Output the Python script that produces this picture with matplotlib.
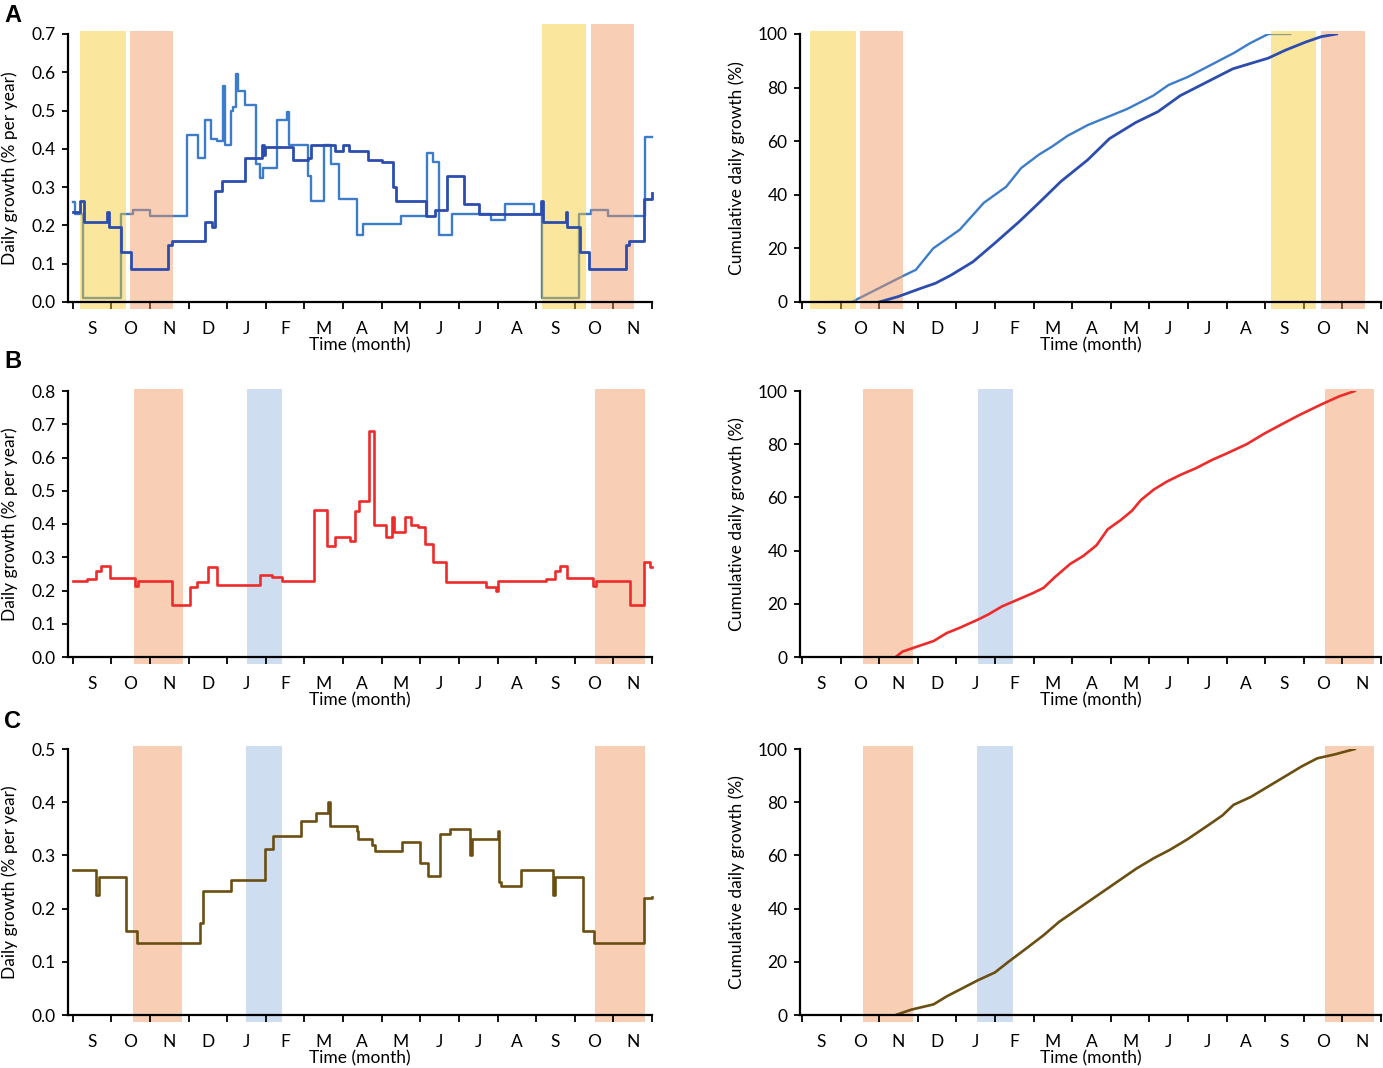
import numpy as np
import matplotlib
matplotlib.use("Agg")
import matplotlib.pyplot as plt

plt.rcParams['font.family'] = ['Lato', 'DejaVu Sans']

months = ["S", "O", "N", "D", "J", "F", "M", "A", "M", "J", "J", "A", "S", "O", "N"]

# ---- Panel A (daily growth, two series) ----
a_light_x = [0.00, 0.05, 0.27, 1.26, 1.57, 2.00, 2.97, 3.24, 3.43, 3.57, 3.73, 3.89, 3.94,
             4.09, 4.14, 4.23, 4.28, 4.45, 4.76, 4.86, 4.94, 5.28, 5.55, 5.60, 6.09, 6.18,
             6.51, 6.70, 6.90, 7.35, 7.51, 8.51, 9.17, 9.32, 9.49, 9.82, 10.83, 11.19,
             11.94, 12.16, 13.12, 13.41, 13.87, 14.82, 15.00]
a_light_y = [0.26, 0.23, 0.01, 0.23, 0.24, 0.225, 0.435, 0.375, 0.475, 0.425, 0.42, 0.565, 0.41,
             0.50, 0.51, 0.595, 0.55, 0.515, 0.36, 0.325, 0.35, 0.475, 0.495, 0.41, 0.33, 0.265,
             0.41, 0.36, 0.27, 0.175, 0.205, 0.225, 0.39, 0.365, 0.175, 0.23, 0.215, 0.255,
             0.23, 0.01, 0.23, 0.24, 0.225, 0.43, 0.43]

a_dark_x = [0.00, 0.20, 0.29, 0.90, 0.95, 1.26, 1.51, 2.48, 2.57, 3.42, 3.62, 3.68, 3.86,
            4.45, 4.90, 4.95, 4.99, 5.70, 6.10, 6.16, 6.78, 6.99, 7.16, 7.64, 8.02, 8.29,
            8.36, 9.16, 9.37, 9.70, 10.13, 10.51, 12.12, 12.18, 12.77, 12.81, 13.14, 13.38,
            14.33, 14.40, 14.80, 15.00]
a_dark_y = [0.235, 0.265, 0.21, 0.235, 0.195, 0.13, 0.085, 0.15, 0.16, 0.21, 0.195, 0.29, 0.315,
            0.375, 0.41, 0.385, 0.405, 0.37, 0.375, 0.41, 0.395, 0.41, 0.395, 0.37, 0.365, 0.30,
            0.265, 0.225, 0.24, 0.33, 0.255, 0.23, 0.265, 0.21, 0.235, 0.195, 0.13, 0.085,
            0.15, 0.16, 0.27, 0.285]

a_cum_light_x = [0.78, 1.29, 2.66, 2.95, 3.40, 4.09, 4.71, 5.29, 5.68, 6.14, 6.48, 6.88, 7.40,
                 7.91, 8.42, 9.10, 9.50, 10.00, 10.60, 11.20, 11.60, 12.08, 12.65]
a_cum_light_y = [0, 0, 10, 12, 20, 27, 37, 43, 50, 55, 58, 62, 66,
                 69, 72, 77, 81, 84, 88.5, 93, 96.5, 100, 100]

a_cum_dark_x = [2.00, 2.49, 3.06, 3.46, 3.86, 4.43, 5.00, 5.63, 6.14, 6.71, 7.40, 7.97, 8.65,
                9.22, 9.80, 10.48, 11.16, 12.08, 12.53, 13.05, 13.45, 13.85]
a_cum_dark_y = [0, 2, 5, 7, 10, 15, 22, 30, 37, 45, 53, 61, 67,
                71, 77, 82, 87, 91, 94, 97, 99, 100]

# ---- Panel B ----
b_x = [0.00, 0.36, 0.60, 0.74, 0.96, 1.61, 1.68, 2.56, 3.04, 3.22, 3.51, 3.74, 4.86, 5.17,
       5.43, 6.24, 6.58, 6.79, 7.19, 7.30, 7.42, 7.67, 7.81, 8.12, 8.26, 8.31, 8.60, 8.76,
       8.93, 9.12, 9.34, 9.66, 10.71, 10.96, 11.02, 12.26, 12.49, 12.62, 12.81, 13.47,
       13.55, 14.44, 14.79, 14.95, 15.00]
b_y = [0.228, 0.235, 0.258, 0.275, 0.237, 0.215, 0.228, 0.155, 0.21, 0.225, 0.27, 0.218, 0.248, 0.24,
       0.228, 0.443, 0.335, 0.362, 0.35, 0.44, 0.47, 0.68, 0.398, 0.36, 0.42, 0.375, 0.42, 0.397,
       0.39, 0.34, 0.285, 0.225, 0.21, 0.20, 0.228, 0.235, 0.258, 0.275, 0.237, 0.215,
       0.228, 0.155, 0.285, 0.27, 0.27]

b_cum_x = [2.43, 2.60, 3.00, 3.41, 3.75, 4.09, 4.55, 4.83, 5.18, 5.58, 5.98, 6.26, 6.55, 6.95,
           7.29, 7.63, 7.92, 8.26, 8.55, 8.78, 9.12, 9.46, 9.81, 10.21, 10.61, 11.00, 11.52,
           11.98, 12.43, 12.89, 13.46, 13.92, 14.32]
b_cum_y = [0, 2, 4, 6, 9, 11, 14, 16, 19, 21.5, 24, 26, 30, 35,
           38, 42, 48, 51.5, 55, 59, 63, 66, 68.5, 71, 74, 76.5, 80,
           84, 87.5, 91, 95, 98, 100]

# ---- Panel C ----
c_x = [0.00, 0.60, 0.68, 1.39, 1.66, 3.29, 3.37, 4.10, 4.97, 5.20, 5.90, 6.29, 6.61, 6.66,
       7.36, 7.40, 7.75, 7.83, 8.52, 8.99, 9.19, 9.50, 9.78, 10.29, 10.34, 11.00, 11.04,
       11.10, 11.62, 12.43, 12.50, 13.22, 13.50, 14.79, 15.00]
c_y = [0.272, 0.225, 0.26, 0.158, 0.135, 0.172, 0.233, 0.253, 0.312, 0.337, 0.365, 0.38, 0.40, 0.355,
       0.345, 0.33, 0.32, 0.308, 0.325, 0.285, 0.262, 0.34, 0.35, 0.30, 0.33, 0.345, 0.25,
       0.243, 0.272, 0.225, 0.26, 0.158, 0.135, 0.22, 0.222]

c_cum_x = [2.43, 2.83, 3.41, 3.75, 4.15, 4.55, 5.00, 5.35, 5.81, 6.26, 6.66, 7.06, 7.46, 7.86,
           8.26, 8.66, 9.12, 9.52, 9.98, 10.49, 10.89, 11.18, 11.63, 12.09, 12.55, 12.95,
           13.35, 13.81, 14.32]
c_cum_y = [0, 2, 4, 7, 10, 13, 16, 20, 25, 30, 35, 39, 43, 47,
           51, 55, 59, 62, 66, 71, 75, 79, 82, 86, 90, 93.5,
           96.5, 98, 100]

# band periods (start, end) in months from the start of the axis
a_left_bands = [(0.19, 1.38, 'y'), (1.49, 2.60, 'o'), (12.14, 13.29, 'y'), (13.43, 14.54, 'o')]
a_right_bands = [(0.21, 1.40, 'y'), (1.50, 2.62, 'o'), (12.15, 13.32, 'y'), (13.45, 14.59, 'o')]
b_left_bands = [(1.59, 2.86, 'o'), (4.51, 5.43, 'b'), (13.53, 14.82, 'o')]
b_right_bands = [(1.59, 2.89, 'o'), (4.56, 5.46, 'b'), (13.55, 14.82, 'o')]
c_left_bands = [(1.55, 2.84, 'o'), (4.49, 5.41, 'b'), (13.53, 14.82, 'o')]
c_right_bands = [(1.59, 2.89, 'o'), (4.54, 5.46, 'b'), (13.54, 14.82, 'o')]

band_colors = {'y': '#F8C828', 'o': '#F0965A', 'b': '#96B4E1'}
BAND_ALPHA = 0.45

W, H = 1383, 1068
fig = plt.figure(figsize=(W / 100, H / 100), dpi=100)
FS = 12.5


def make_ax(x0, x1, ytop, ybot):
    return fig.add_axes([x0 / W, 1 - ybot / H, (x1 - x0) / W, (ybot - ytop) / H])


def style(ax, xlo, ymax, ystep, fmt, ylabel, ylab_x, hpx):
    ax.set_xlim(xlo, 15)
    ax.set_ylim(0, ymax)
    for s in ['top', 'right']:
        ax.spines[s].set_visible(False)
    for s in ['left', 'bottom']:
        ax.spines[s].set_linewidth(1.6)
        ax.spines[s].set_zorder(4)
    ax.set_xticks(np.arange(16))
    ax.set_xticklabels([])
    ax.set_xticks(np.arange(15) + 0.5, minor=True)
    ax.set_xticklabels(months, minor=True)
    ax.tick_params(axis='x', which='major', direction='out', length=5, width=1.3)
    ax.tick_params(axis='x', which='minor', length=0, pad=13.5, labelsize=FS)
    yt = np.arange(0, ymax + ystep / 2, ystep)
    ax.set_yticks(yt)
    ax.set_yticklabels([fmt.format(v) for v in yt])
    ax.tick_params(axis='y', direction='out', length=4, width=1.3, pad=5, labelsize=FS)
    ax.set_ylabel(ylabel, fontsize=FS)
    ax.yaxis.set_label_coords(ylab_x, 0.5)
    ax.set_xlabel("Time (month)", fontsize=FS, labelpad=0)
    ax.xaxis.set_label_coords(0.5, -35 / hpx)


def bands(ax, spans, top=1.01, z=2):
    for x0, x1, k in spans:
        ax.axvspan(x0, x1, ymin=-0.027, ymax=top, color=band_colors[k], alpha=BAND_ALPHA,
                   lw=0, clip_on=False, zorder=z)


DARK = '#2C4DAE'
LIGHT = '#3D7CC9'
RED = '#EE2B2B'
BROWN = '#6B4E12'

left_lab = "Daily growth (% per year)"
right_lab = "Cumulative daily growth (%)"
LX = -50 / 584
RX = -55 / 581

# Row A
ax = make_ax(68, 652, 34, 302)
style(ax, -0.12, 0.7, 0.1, "{:.1f}", left_lab, LX, 268)
ax.plot(a_light_x, a_light_y, drawstyle='steps-post', color=LIGHT, lw=1.7, zorder=1, clip_on=False)
bands(ax, a_left_bands[:2], top=1.011)
bands(ax, a_left_bands[2:], top=1.037)
ax.plot(a_dark_x, a_dark_y, drawstyle='steps-post', color=DARK, lw=2.0, zorder=3, clip_on=False)

ax = make_ax(800, 1381, 34, 302)
style(ax, -0.05, 100, 20, "{:.0f}", right_lab, RX, 268)
ax.plot(a_cum_light_x, a_cum_light_y, color=LIGHT, lw=1.7, zorder=1)
bands(ax, a_right_bands, top=1.01)
ax.plot(a_cum_dark_x, a_cum_dark_y, color=DARK, lw=2.0, zorder=3)

# Row B
ax = make_ax(68, 652, 391, 657)
style(ax, -0.12, 0.8, 0.1, "{:.1f}", left_lab, LX, 266)
bands(ax, b_left_bands, top=1.009, z=1)
ax.plot(b_x, b_y, drawstyle='steps-post', color=RED, lw=1.9, zorder=3, clip_on=False)

ax = make_ax(800, 1381, 391, 657)
style(ax, -0.05, 100, 20, "{:.0f}", right_lab, RX, 266)
bands(ax, b_right_bands, top=1.009, z=1)
ax.plot(b_cum_x, b_cum_y, color=RED, lw=1.9, zorder=3)

# Row C
ax = make_ax(68, 652, 749, 1015)
style(ax, -0.12, 0.5, 0.1, "{:.1f}", left_lab, LX, 266)
bands(ax, c_left_bands, top=1.01, z=1)
ax.plot(c_x, c_y, drawstyle='steps-post', color=BROWN, lw=1.9, zorder=3, clip_on=False)

ax = make_ax(800, 1381, 749, 1015)
style(ax, -0.05, 100, 20, "{:.0f}", right_lab, RX, 266)
bands(ax, c_right_bands, top=1.01, z=1)
ax.plot(c_cum_x, c_cum_y, color=BROWN, lw=1.9, zorder=3)

# panel letters
for lab, ytop in [("A", 4), ("B", 350), ("C", 710)]:
    fig.text(4 / W, 1 - ytop / H, lab, fontsize=17, fontweight='bold',
             family=['Liberation Sans', 'DejaVu Sans'], ha='left', va='top')

fig.savefig("out.png", dpi=100)
